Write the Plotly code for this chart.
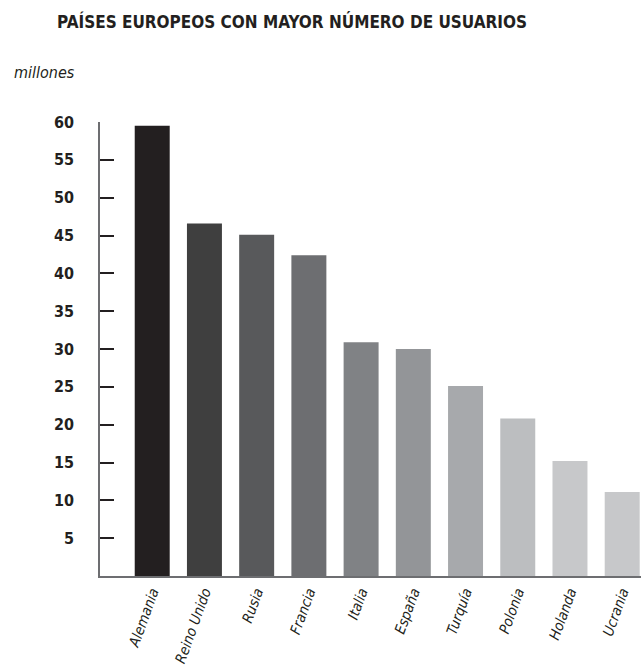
import plotly.graph_objects as go

paises = ["Alemania", "Reino Unido", "Rusia", "Francia", "Italia", "España",
          "Turquía", "Polonia", "Holanda", "Ucrania"]
usuarios = [59.5, 46.6, 45.1, 42.4, 30.9, 30.0, 25.1, 20.8, 15.2, 11.1]
colores = ["#231f20", "#3f3f3f", "#58595b", "#6d6e71", "#808285", "#939598",
           "#a7a9ac", "#bcbec0", "#c7c8ca", "#c7c8ca"]
ticks_y = [5, 10, 15, 20, 25, 30, 35, 40, 45, 50, 55, 60]
titulo = "PAÍSES EUROPEOS CON MAYOR NÚMERO DE USUARIOS"
unidad = "millones"

W, H = 641, 672
L, R, T, B = 100, 0, 122, 96

font_bold = "DejaVu Sans Condensed, Liberation Sans Narrow, Arial Narrow, sans-serif"

fig = go.Figure(go.Bar(
    x=paises, y=usuarios, marker=dict(color=colores, line=dict(width=0)),
    width=0.67, hoverinfo="x+y",
))

fig.update_layout(
    width=W, height=H,
    margin=dict(l=L, r=R, t=T, b=B, pad=0, autoexpand=False),
    paper_bgcolor="white", plot_bgcolor="white",
    showlegend=False,
    title=dict(text="<b>" + titulo + "</b>", x=57 / W, xanchor="left",
               xref="container", y=1 - 22 / H, yref="container", yanchor="middle",
               font=dict(family=font_bold, size=17, color="#231f20")),
    xaxis=dict(
        type="category", range=[-1.0, 9.36], showgrid=False, zeroline=False,
        showline=True, linecolor="#6d6e71", linewidth=1.5, automargin=False,
        ticks="", tickangle=-70, ticklabelstandoff=0,
        tickfont=dict(family=font_bold, size=14.5, color="#231f20", style="italic"),
    ),
    yaxis=dict(
        range=[0, 60], showgrid=False, zeroline=False, automargin=False,
        showline=True, linecolor="#6d6e71", linewidth=1.5,
        tickvals=ticks_y, ticktext=["<b>%d</b>" % v for v in ticks_y],
        ticks="inside", ticklen=14, tickwidth=2, tickcolor="#231f20",
        ticklabelstandoff=21,
        tickfont=dict(family=font_bold, size=16, color="#231f20"),
    ),
    annotations=[dict(
        text=unidad, xref="paper", yref="paper",
        x=(12 - L) / (W - L - R), y=(H - B - 73) / (H - T - B),
        xanchor="left", yanchor="middle", showarrow=False,
        font=dict(family=font_bold, size=16, color="#231f20", style="italic"),
    )],
)

fig.write_html("out.html")
